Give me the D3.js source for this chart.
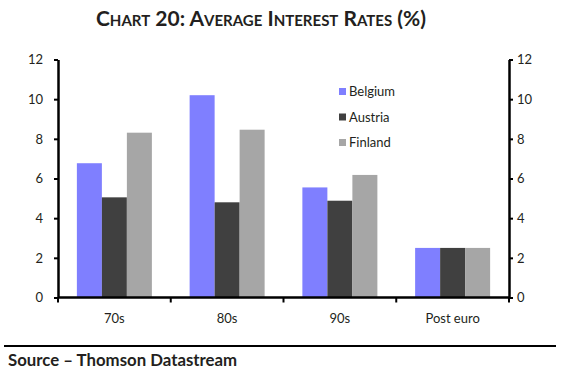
<!DOCTYPE html>
<html>
<head>
<meta charset="utf-8">
<script src="https://cdn.jsdelivr.net/npm/d3@7"></script>
<style>
  body { margin: 0; background: #fff; }
  text { font-family: Lato, "Open Sans", sans-serif; fill: #231f20; }
</style>
</head>
<body>
<svg id="chart" width="562" height="375"></svg>
<script>
// chart data
let categories = ["70s", "80s", "90s", "Post euro"]
let series = ["Belgium", "Austria", "Finland"]
let belgium = [6.77, 10.2, 5.55, 2.5]
let austria = [5.05, 4.8, 4.88, 2.5]
let finland = [8.31, 8.46, 6.18, 2.5]
let yTicks = [0, 2, 4, 6, 8, 10, 12]
let colors = ["#7f7fff", "#404040", "#a6a6a6"]

let margins = {left: 58, right: 53, top: 59.5, bottom: 77.5}
let width = 562, height = 375

let svg = d3.select("#chart")

let rows = categories.map((c, i) => ({
  cat: c,
  values: [belgium[i], austria[i], finland[i]]
}))

let x0 = d3.scaleBand()
  .domain(categories)
  .range([margins.left, width - margins.right])
  .padding(0)

let x1 = d3.scaleBand()
  .domain(series)
  .range([0, x0.bandwidth()])
  .paddingInner(0)
  .paddingOuter(0.755)

let y = d3.scaleLinear()
  .domain([0, 12])
  .range([height - margins.bottom, margins.top])

let fill = d3.scaleOrdinal().domain(series).range(colors)

// title
svg.append("text")
  .attr("x", 261)
  .attr("y", 26)
  .attr("text-anchor", "middle")
  .style("font-size", "21px")
  .style("font-weight", "bold")
  .style("font-variant", "small-caps")
  .text("Chart 20: Average Interest Rates (%)")

// bars
svg.append("g")
  .selectAll("g")
  .data(rows).enter()
  .append("g")
  .attr("transform", d => `translate(${x0(d.cat)},0)`)
  .selectAll("rect")
  .data(d => d.values.map((v, i) => ({name: series[i], value: v}))).enter()
  .append("rect")
  .attr("x", d => x1(d.name))
  .attr("y", d => y(d.value))
  .attr("width", x1.bandwidth())
  .attr("height", d => y(0) - y(d.value))
  .attr("fill", d => fill(d.name))

// y axes
let styleAxis = g => {
  g.select(".domain").attr("stroke", "#000").attr("stroke-width", 2.5)
  g.selectAll(".tick line").attr("stroke", "#000").attr("stroke-width", 2)
  g.selectAll(".tick text")
    .style("font-size", "13px")
    .style("font-family", "Lato, 'Open Sans', sans-serif")
    .attr("fill", "#231f20")
}

svg.append("g")
  .attr("transform", `translate(${margins.left},0)`)
  .call(d3.axisLeft(y).tickValues(yTicks).tickSize(4).tickSizeOuter(0).tickPadding(11))
  .call(styleAxis)

svg.append("g")
  .attr("transform", `translate(${width - margins.right},0)`)
  .call(d3.axisRight(y).tickValues(yTicks).tickSize(4).tickSizeOuter(0).tickPadding(4))
  .call(styleAxis)

// x axis: labels centred, ticks at category boundaries
let xAxis = svg.append("g")
  .attr("transform", `translate(0,${y(0)})`)
  .call(d3.axisBottom(x0).tickSize(0).tickPadding(16))
  .call(styleAxis)
xAxis.select(".domain").remove()

let bounds = categories.map(c => x0(c)).concat([x0.range()[1]])
xAxis.append("line")
  .attr("x1", x0.range()[0]).attr("x2", x0.range()[1])
  .attr("stroke", "#000").attr("stroke-width", 2.5)
xAxis.selectAll(".bound")
  .data(bounds).enter()
  .append("line")
  .attr("class", "bound")
  .attr("x1", d => d).attr("x2", d => d)
  .attr("y1", 0).attr("y2", 5)
  .attr("stroke", "#000").attr("stroke-width", 2)

// legend
let legend = svg.append("g")
  .attr("transform", "translate(339,88)")
  .selectAll("g")
  .data(series).enter()
  .append("g")
  .attr("transform", (d, i) => `translate(0,${i * 25.5})`)

legend.append("rect")
  .attr("width", 7).attr("height", 7)
  .attr("fill", d => fill(d))
legend.append("text")
  .attr("x", 10).attr("y", 8)
  .style("font-size", "13px")
  .text(d => d)

// footer
svg.append("line")
  .attr("x1", 4).attr("x2", 556)
  .attr("y1", 346).attr("y2", 346)
  .attr("stroke", "#000").attr("stroke-width", 2.2)

svg.append("text")
  .attr("x", 8).attr("y", 366)
  .style("font-size", "16.8px")
  .style("font-weight", "bold")
  .text("Source \u2013 Thomson Datastream")
</script>
</body>
</html>
